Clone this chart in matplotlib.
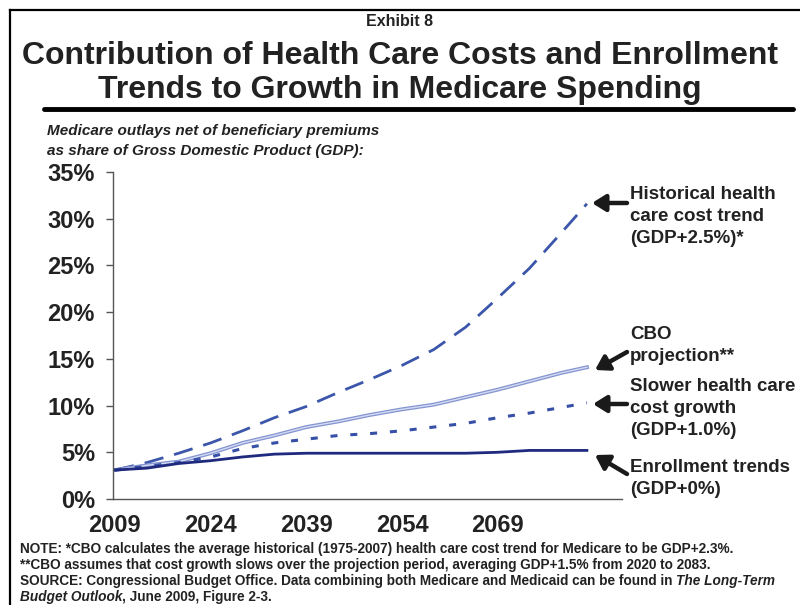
import matplotlib.pyplot as plt
from matplotlib.lines import Line2D

# ── Data (share of GDP, %) ──────────────────────────────
years = [2009, 2014, 2019, 2024, 2029, 2034, 2039, 2044, 2049, 2054,
         2059, 2064, 2069, 2074, 2079, 2083]
historical = [3.1, 3.9, 4.9, 6.0, 7.3, 8.7, 9.9, 11.4, 12.8, 14.3,
              16.0, 18.4, 21.5, 24.7, 28.5, 31.6]
cbo = [3.1, 3.6, 4.0, 4.9, 6.0, 6.8, 7.7, 8.3, 9.0, 9.6,
       10.1, 10.9, 11.7, 12.6, 13.5, 14.1]
slower = [3.1, 3.5, 3.9, 4.5, 5.4, 6.0, 6.4, 6.8, 7.0, 7.3,
          7.7, 8.1, 8.7, 9.2, 9.8, 10.3]
enrollment = [3.1, 3.3, 3.8, 4.1, 4.5, 4.8, 4.9, 4.9, 4.9, 4.9,
              4.9, 4.9, 5.0, 5.2, 5.2, 5.2]

xticks = [2009, 2024, 2039, 2054, 2069]
yticks = [0, 5, 10, 15, 20, 25, 30, 35]

FONT = ["Liberation Sans", "DejaVu Sans"]
INK = "#222222"

fig = plt.figure(figsize=(8, 6.05), dpi=100)
ax = fig.add_axes([113 / 800, 1 - 499 / 605, 509 / 800, 327 / 605])

ax.plot(years, historical, color="#3B56AA", lw=2.0, dashes=(7, 4))
ax.plot(years, cbo, color="#8494D0", lw=2.8)
ax.plot(years, cbo, color="#D4DAF2", lw=1.0)
ax.plot(years, slower, color="#3550A6", lw=2.2, dashes=(2.3, 4.2))
ax.plot(years, enrollment, color="#1F2A7E", lw=2.0)

ax.set_xlim(2008.7, 2088.5)
ax.set_ylim(0, 35)
ax.set_xticks(xticks)
ax.set_yticks(yticks)
ax.set_yticklabels([f"{v}%" for v in yticks])
for side in ("top", "right"):
    ax.spines[side].set_visible(False)
for side in ("left", "bottom"):
    ax.spines[side].set_color("#555555")
    ax.spines[side].set_linewidth(1.0)
ax.tick_params(axis="x", length=0, pad=11)
ax.tick_params(axis="y", length=5, width=1.0, color="#555555", pad=8)
for lbl in ax.get_xticklabels() + ax.get_yticklabels():
    lbl.set_fontsize(17)
    lbl.set_fontweight("bold")
    lbl.set_family(FONT)
    lbl.set_color(INK)

# ── Arrow labels on the right ────────────────────────────────────────────────
labels = [
    ("Historical health\ncare cost trend\n(GDP+2.5%)*", (630, 186), (627, 203), (592, 203)),
    ("CBO\nprojection**", (630, 326), (627, 352), (595, 370)),
    ("Slower health care\ncost growth\n(GDP+1.0%)", (630, 378), (627, 404), (593, 404)),
    ("Enrollment trends\n(GDP+0%)", (630, 459), (627, 474), (595, 455)),
]
for text, (tx, ty), (x0, y0), (x1, y1) in labels:
    fig.text(tx / 800, 1 - ty / 605, text, ha="left", va="top",
             fontsize=13.5, fontweight="bold", family=FONT,
             color=INK, linespacing=1.38)
    fig.add_artist(plt.Annotation(
        "", xy=(x1 / 800, 1 - y1 / 605), xytext=(x0 / 800, 1 - y0 / 605),
        xycoords="figure fraction", textcoords="figure fraction",
        arrowprops=dict(arrowstyle="-|>,head_width=0.5,head_length=0.8",
                        color="#1a1a1a", lw=3.2, shrinkA=0, shrinkB=0)))

# ── Titles ───────────────────────────────────────────────────────────────────
fig.text(0.5, 1 - 22 / 605, "Exhibit 8", ha="center", va="center",
         fontsize=11.5, fontweight="bold", family=FONT, color=INK)
fig.text(0.5, 1 - 56 / 605, "Contribution of Health Care Costs and Enrollment",
         ha="center", va="center", fontsize=23, fontweight="bold",
         family=FONT, color=INK)
fig.text(0.5, 1 - 90 / 605, "Trends to Growth in Medicare Spending",
         ha="center", va="center", fontsize=23, fontweight="bold",
         family=FONT, color=INK)
fig.text(47 / 800, 1 - 131 / 605, "Medicare outlays net of beneficiary premiums",
         ha="left", va="center", fontsize=11, fontweight="bold",
         style="italic", family=FONT, color=INK)
fig.text(47 / 800, 1 - 151 / 605, "as share of Gross Domestic Product (GDP):",
         ha="left", va="center", fontsize=11, fontweight="bold",
         style="italic", family=FONT, color=INK)

# Frame and title rule
fig.add_artist(Line2D([10 / 800, 10 / 800], [0, 1 - 10 / 605],
                      color="black", lw=1.6))
fig.add_artist(Line2D([10 / 800, 1], [1 - 10 / 605, 1 - 10 / 605],
                      color="black", lw=1.6))
fig.add_artist(Line2D([44 / 800, 793 / 800], [1 - 109 / 605, 1 - 109 / 605],
                      color="black", lw=3.5, solid_capstyle="round"))

# ── Notes ────────────────────────────────────────────────────────────────────
note_kw = dict(fontsize=9.85, fontweight="bold", family=FONT, color=INK)
fig.text(20 / 800, 1 - 556 / 605,
         "NOTE: *CBO calculates the average historical (1975-2007) health care "
         "cost trend for Medicare to be GDP+2.3%.", ha="left", va="bottom", **note_kw)
fig.text(20 / 800, 1 - 572 / 605,
         "**CBO assumes that cost growth slows over the projection period, "
         "averaging GDP+1.5% from 2020 to 2083.", ha="left", va="bottom", **note_kw)
src = fig.text(20 / 800, 1 - 588 / 605,
               "SOURCE: Congressional Budget Office. Data combining both Medicare "
               "and Medicaid can be found in ", ha="left", va="bottom", **note_kw)
ax.annotate("The Long-Term", xy=(1, 0), xycoords=src, ha="left", va="bottom",
            style="italic", annotation_clip=False, **note_kw)
bud = fig.text(20 / 800, 1 - 604 / 605, "Budget Outlook", ha="left",
               va="bottom", style="italic", **note_kw)
ax.annotate(", June 2009, Figure 2-3.", xy=(1, 0), xycoords=bud, ha="left",
            va="bottom", annotation_clip=False, **note_kw)

fig.savefig("out.png", dpi=100)
